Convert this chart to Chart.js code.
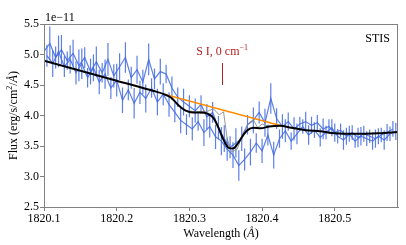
<!DOCTYPE html>
<html>
<head>
<meta charset="utf-8">
<script src="https://cdn.jsdelivr.net/npm/chart.js@4/dist/chart.umd.min.js"></script>
<style>
html,body{margin:0;padding:0;background:#fff;}
#wrap{width:406px;height:245px;}
</style>
</head>
<body>
<div id="wrap"><canvas id="c" width="406" height="245"></canvas></div>
<script>
// Flux values in units of 1e-11 erg/s/cm^2/Å
const wavelengthA = [
1820.100,1820.108,1820.116,1820.124,1820.132,1820.140,1820.148,1820.156,1820.164,1820.172,
1820.180,1820.188,1820.196,1820.204,1820.212,1820.220,1820.228,1820.236,1820.244,1820.252,
1820.260,1820.268,1820.276,1820.284,1820.292,1820.300,1820.308,1820.316,1820.324,1820.332,
1820.340,1820.348,1820.356,1820.364,1820.372,1820.380,1820.388,1820.396,1820.404,1820.412,
1820.420,1820.428,1820.436,1820.444,1820.452,1820.460,1820.468,1820.476,1820.484,1820.492,
1820.500,1820.508,1820.516,1820.524,1820.532,1820.540,1820.548,1820.556,1820.564,1820.572,1820.580];

const fluxA = [
5.05,5.18,4.95,5.08,4.90,5.02,4.82,4.95,4.72,4.88,
4.70,4.92,4.65,4.80,4.95,4.62,4.75,4.55,4.92,4.60,
4.72,4.68,4.45,4.30,4.22,4.15,4.08,4.18,3.98,4.05,
3.80,3.62,3.48,3.55,3.62,3.85,3.92,4.05,3.88,4.28,
3.95,3.82,3.90,3.78,3.86,3.90,3.84,3.88,3.78,3.82,
3.72,3.76,3.66,3.72,3.64,3.70,3.66,3.62,3.68,3.72,3.78];

const errA = [
0.20,0.28,0.18,0.24,0.15,0.22,0.26,0.17,0.21,0.25,
0.16,0.27,0.19,0.22,0.25,0.18,0.23,0.20,0.26,0.17,
0.21,0.15,0.19,0.16,0.22,0.18,0.20,0.15,0.21,0.17,
0.19,0.22,0.18,0.24,0.20,0.16,0.21,0.18,0.23,0.25,
0.17,0.20,0.15,0.19,0.12,0.16,0.14,0.13,0.17,0.12,
0.15,0.11,0.14,0.12,0.16,0.13,0.11,0.15,0.12,0.14,0.13];

const wavelengthB = [
1820.104,1820.112,1820.120,1820.128,1820.136,1820.144,1820.152,1820.160,1820.168,1820.176,
1820.184,1820.192,1820.200,1820.208,1820.216,1820.224,1820.232,1820.240,1820.248,1820.256,
1820.264,1820.272,1820.280,1820.288,1820.296,1820.304,1820.312,1820.320,1820.328,1820.336,
1820.344,1820.352,1820.360,1820.368,1820.376,1820.384,1820.392,1820.400,1820.408,1820.416,
1820.424,1820.432,1820.440,1820.448,1820.456,1820.464,1820.472,1820.480,1820.488,1820.496,
1820.504,1820.512,1820.520,1820.528,1820.536,1820.544,1820.552,1820.560,1820.568,1820.576,1820.584];

const fluxB = [
4.98,4.85,5.05,4.80,4.92,4.70,4.85,4.62,4.78,4.55,
4.68,4.45,4.58,4.25,4.42,4.20,4.38,4.28,4.45,4.22,
4.35,4.18,4.05,3.92,3.85,3.78,3.90,3.72,3.82,3.65,
3.58,3.45,3.35,3.18,3.28,3.40,3.55,3.42,3.68,3.35,
3.62,3.75,3.58,3.70,3.82,3.68,3.76,3.64,3.72,3.80,
3.66,3.60,3.70,3.58,3.66,3.62,3.58,3.66,3.60,3.70,3.74];

const errB = [
0.18,0.22,0.26,0.17,0.23,0.19,0.25,0.16,0.22,0.20,
0.24,0.18,0.27,0.21,0.17,0.25,0.19,0.23,0.16,0.22,
0.18,0.20,0.16,0.21,0.17,0.19,0.15,0.22,0.18,0.20,
0.23,0.19,0.21,0.25,0.18,0.22,0.16,0.20,0.17,0.22,
0.15,0.19,0.14,0.17,0.12,0.16,0.13,0.15,0.11,0.14,
0.12,0.16,0.13,0.11,0.15,0.12,0.14,0.13,0.16,0.12,0.14];

const modelX = [1820.100,1820.200,1820.250,1820.265,1820.275,1820.285,1820.295,1820.305,1820.315,1820.325,
  1820.333,1820.340,1820.347,1820.354,1820.360,1820.366,1820.373,1820.380,1820.388,1820.398,
  1820.410,1820.425,1820.440,1820.460,1820.480,1820.500,1820.530,1820.560,1820.587];
const modelY = [4.90,4.57,4.405,4.35,4.29,4.17,4.08,4.05,4.05,4.03,
  3.96,3.80,3.60,3.47,3.46,3.53,3.66,3.76,3.80,3.79,
  3.82,3.83,3.80,3.76,3.74,3.71,3.70,3.71,3.73];

const intrinsicX = [1820.295,1820.310,1820.325,1820.333,1820.341,1820.347,1820.352,1820.358,1820.366,1820.374,1820.382,1820.388,1820.394,1820.400,1820.410];
const intrinsicY = [4.08,4.06,4.07,4.11,4.01,4.06,3.62,3.40,3.45,3.72,3.88,3.93,3.80,3.86,3.82];

const continuumX = [1820.268, 1820.430];
const continuumY = [4.34, 3.82];

const xTicks = [1820.1, 1820.2, 1820.3, 1820.4, 1820.5];
const yTicks = [2.5, 3.0, 3.5, 4.0, 4.5, 5.0, 5.5];

const lineLabel = {x: 1820.345, yTop: 4.86, yBottom: 4.50};

const pts = (xs, ys) => xs.map((x, i) => ({x: x, y: ys[i]}));
const SERIF = '"Liberation Serif", "Times New Roman", serif';
const BLUE = 'rgba(65,105,225,0.85)';

const errorBars = {
  id: 'errorBars',
  beforeDatasetsDraw(chart) {
    const ctx = chart.ctx, xs = chart.scales.x, ys = chart.scales.y, a = chart.chartArea;
    ctx.save();
    ctx.beginPath(); ctx.rect(a.left, a.top, a.right - a.left, a.bottom - a.top); ctx.clip();
    ctx.strokeStyle = BLUE; ctx.lineWidth = 1.2;
    [[wavelengthA, fluxA, errA], [wavelengthB, fluxB, errB]].forEach(([w, f, e]) => {
      ctx.beginPath();
      w.forEach((wl, i) => {
        const px = xs.getPixelForValue(wl);
        ctx.moveTo(px, ys.getPixelForValue(f[i] + e[i]));
        ctx.lineTo(px, ys.getPixelForValue(f[i] - e[i]));
      });
      ctx.stroke();
    });
    ctx.restore();
  }
};

function drawParts(ctx, parts, x, y, align) {
  let total = 0;
  parts.forEach(p => { ctx.font = p.f; p.w = ctx.measureText(p.t).width; total += p.w; });
  let cx = align === 'center' ? x - total / 2 : (align === 'right' ? x - total : x);
  parts.forEach(p => { ctx.font = p.f; ctx.fillText(p.t, cx, y + (p.dy || 0)); cx += p.w; });
}

const decorations = {
  id: 'decorations',
  afterDraw(chart) {
    const ctx = chart.ctx, a = chart.chartArea, xs = chart.scales.x, ys = chart.scales.y;
    ctx.save();
    ctx.strokeStyle = '#808080'; ctx.lineWidth = 1;
    ctx.strokeRect(Math.round(a.left) + 0.5, Math.round(a.top) + 0.5, Math.round(a.right - a.left) - 1, Math.round(a.bottom - a.top));
    ctx.textAlign = 'left'; ctx.textBaseline = 'alphabetic';
    ctx.fillStyle = '#000';
    const f12 = '12px ' + SERIF, fi12 = 'italic 12px ' + SERIF, f8 = '8px ' + SERIF;
    ctx.font = f12; ctx.fillText('1e\u221211', 45, 21);
    drawParts(ctx, [{t: 'STIS', f: f12}], 390, 42, 'right');
    drawParts(ctx, [{t: 'Wavelength (', f: f12}, {t: 'Å', f: fi12}, {t: ')', f: f12}], (a.left + a.right) / 2, 237, 'center');
    ctx.save();
    ctx.translate(17, (a.top + a.bottom) / 2);
    ctx.rotate(-Math.PI / 2);
    drawParts(ctx, [{t: 'Flux (erg/s/cm', f: f12}, {t: '2', f: f8, dy: -5}, {t: '/', f: f12}, {t: 'Å', f: fi12}, {t: ')', f: f12}], 0, 0, 'center');
    ctx.restore();
    ctx.fillStyle = '#b22222'; ctx.strokeStyle = '#b22222';
    const lx = xs.getPixelForValue(lineLabel.x);
    drawParts(ctx, [{t: 'S I, 0 cm', f: f12}, {t: '\u22121', f: f8, dy: -5}], lx, 55, 'center');
    ctx.beginPath();
    ctx.moveTo(Math.round(lx) + 0.5, ys.getPixelForValue(lineLabel.yTop));
    ctx.lineTo(Math.round(lx) + 0.5, ys.getPixelForValue(lineLabel.yBottom));
    ctx.stroke();
    ctx.restore();
  }
};

new Chart(document.getElementById('c'), {
  type: 'line',
  data: {
    datasets: [
      {data: pts(modelX, modelY), borderColor: '#000', borderWidth: 2, pointRadius: 0, cubicInterpolationMode: 'monotone', order: 0},
      {data: pts(intrinsicX, intrinsicY), borderColor: 'rgba(140,140,140,0.9)', borderWidth: 1, pointRadius: 0, tension: 0, order: 1},
      {data: pts(continuumX, continuumY), borderColor: '#ff8c00', borderWidth: 1.5, pointRadius: 0, tension: 0, order: 2},
      {data: pts(wavelengthB, fluxB), borderColor: BLUE, borderWidth: 1.2, pointRadius: 0, tension: 0, order: 3},
      {data: pts(wavelengthA, fluxA), borderColor: BLUE, borderWidth: 1.2, pointRadius: 0, tension: 0, order: 4}
    ]
  },
  options: {
    responsive: false,
    animation: false,
    events: [],
    layout: {padding: {left: 0, top: 24, right: 8, bottom: 0}},
    plugins: {legend: {display: false}, tooltip: {enabled: false}},
    scales: {
      x: {
        type: 'linear', min: 1820.1, max: 1820.587,
        afterBuildTicks: s => { s.ticks = xTicks.map(v => ({value: v})); },
        afterFit: s => { s.height = 38; },
        ticks: {callback: v => Number(v).toFixed(1), font: {family: SERIF, size: 12}, color: '#000', padding: 1, maxRotation: 0, autoSkip: false},
        grid: {drawOnChartArea: false, drawTicks: true, tickLength: 4, color: '#808080'},
        border: {display: true, color: '#808080'}
      },
      y: {
        type: 'linear', min: 2.5, max: 5.5,
        afterBuildTicks: s => { s.ticks = yTicks.map(v => ({value: v})); },
        afterFit: s => { s.width = 44; },
        ticks: {callback: v => Number(v).toFixed(1), font: {family: SERIF, size: 12}, color: '#000', padding: 1, autoSkip: false},
        grid: {drawOnChartArea: false, drawTicks: true, tickLength: 4, color: '#808080'},
        border: {display: true, color: '#808080'}
      }
    }
  },
  plugins: [errorBars, decorations]
});
</script>
</body>
</html>
